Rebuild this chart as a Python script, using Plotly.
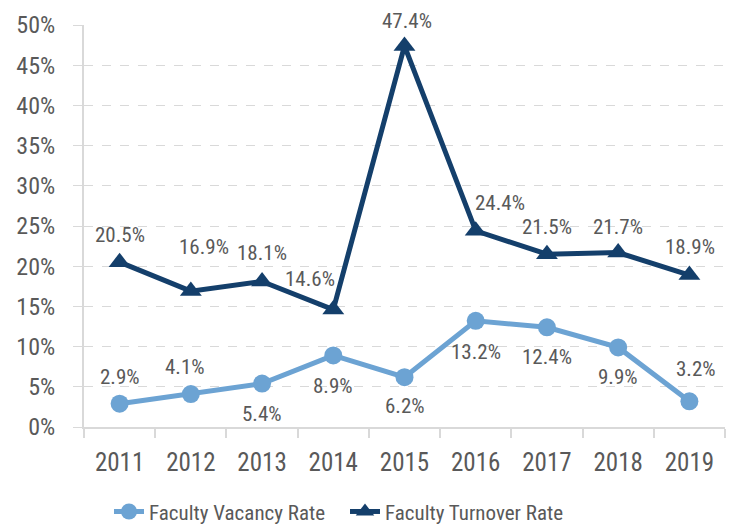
import plotly.graph_objects as go

years = ["2011", "2012", "2013", "2014", "2015", "2016", "2017", "2018", "2019"]
vacancy = [2.9, 4.1, 5.4, 8.9, 6.2, 13.2, 12.4, 9.9, 3.2]
turnover = [20.5, 16.9, 18.1, 14.6, 47.4, 24.4, 21.5, 21.7, 18.9]
y_ticks = [0, 5, 10, 15, 20, 25, 30, 35, 40, 45, 50]

# label offsets in pixels (x, y) relative to each point
vac_shift = [(0, 27), (-6, 27), (0, -30), (0, -31), (0, -29), (0, -31), (0, -30), (0, -30), (7, 32)]
turn_shift = [(0, 27), (13, 44), (0, 28), (-23, 31), (2, 25), (24, 28), (0, 27), (0, 26), (1, 28)]

FONT = "Roboto Condensed, DejaVu Sans Condensed, sans-serif"
TXT = "#595959"
LIGHT = "#6ca3d3"
DARK = "#143f6b"
GRID = "#d9d9d9"

fig = go.Figure()
fig.add_trace(go.Scatter(
    x=years, y=vacancy, name="Faculty Vacancy Rate", mode="lines+markers",
    line=dict(color=LIGHT, width=5),
    marker=dict(symbol="circle", size=18, color=LIGHT),
))
fig.add_trace(go.Scatter(
    x=years, y=turnover, name="Faculty Turnover Rate", mode="lines+markers",
    line=dict(color=DARK, width=5),
    marker=dict(symbol="triangle-up", size=19, color=DARK),
))

for vals, shifts in ((vacancy, vac_shift), (turnover, turn_shift)):
    for i, (v, (dx, dy)) in enumerate(zip(vals, shifts)):
        fig.add_annotation(
            x=i, y=v, xref="x", yref="y", text=f"{v:.1f}%", showarrow=False,
            xshift=dx, yshift=dy,
            font=dict(family=FONT, size=21, color=TXT),
        )

# page body has an 8px margin, so the figure is sized/offset to compensate
fig.update_layout(
    width=730, height=523,
    margin=dict(l=76, r=13, t=17, b=104, autoexpand=False),
    paper_bgcolor="white", plot_bgcolor="white",
    showlegend=True,
    legend=dict(
        orientation="h", x=0.039, xanchor="left", y=-0.211, yanchor="middle",
        font=dict(family=FONT, size=21, color=TXT),
        itemwidth=30, entrywidth=191, entrywidthmode="pixels",
    ),
    font=dict(family=FONT, color=TXT),
)
fig.update_xaxes(
    type="category", tickson="boundaries", ticks="outside", ticklen=9,
    tickcolor=GRID, tickwidth=2, showline=True, linecolor=GRID, linewidth=2,
    showgrid=False, tickfont=dict(family=FONT, size=25, color=TXT),
    ticklabelstandoff=12, automargin=False,
    range=[-0.5, 8.5],
)
fig.update_yaxes(
    range=[0, 50], tickvals=y_ticks, ticktext=[f"{t}%" for t in y_ticks],
    showgrid=True, gridcolor=GRID, griddash="dash", gridwidth=1,
    showline=True, linecolor=GRID, linewidth=2, zeroline=False,
    ticks="outside", ticklen=9, tickcolor=GRID,
    ticklabelstandoff=13, automargin=False,
    tickfont=dict(family=FONT, size=24, color=TXT),
)

fig.write_html("out.html")
